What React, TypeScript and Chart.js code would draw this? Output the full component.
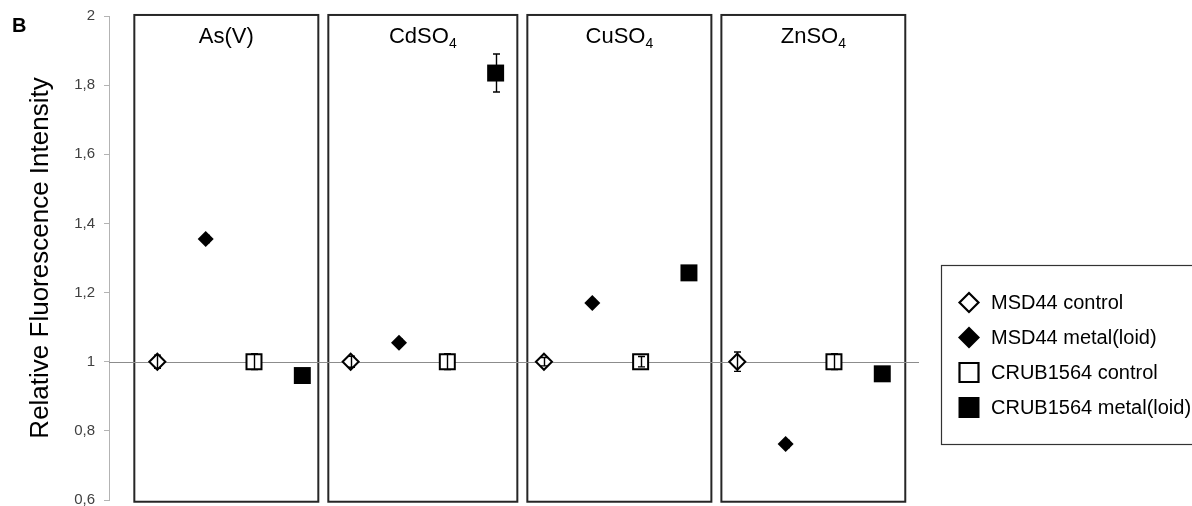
import React, { useEffect, useRef } from 'react';
import { Chart, registerables } from 'chart.js';

Chart.register(...registerables);

// ---------- data ----------
const panelTitles = ['As(V)', 'CdSO', 'CuSO', 'ZnSO'];
const panelSubscripts = ['', '4', '4', '4'];
const seriesNames = ['MSD44 control', 'MSD44 metal(loid)', 'CRUB1564 control', 'CRUB1564 metal(loid)'];

// category positions (1..16) of each series in the four panels
const msdControlX = [1, 5, 9, 13];
const msdMetalX = [2, 6, 10, 14];
const crubControlX = [3, 7, 11, 15];
const crubMetalX = [4, 8, 12, 16];

const msdControl = [1.0, 1.0, 1.0, 1.0];
const msdControlErr = [0.019, 0.016, 0.012, 0.028];
const msdMetal = [1.355, 1.055, 1.17, 0.762];
const msdMetalErr = [0.01, 0.01, 0.01, 0.01];
const crubControl = [1.0, 1.0, 1.0, 1.0];
const crubControlErr = [0.023, 0.023, 0.015, 0.023];
const crubMetal = [0.96, 1.835, 1.257, 0.965];
const crubMetalErr = [0.01, 0.055, 0.01, 0.01];

// panel frames in x-axis units
const panelLeft = [0.524, 4.538, 8.656, 12.671];
const panelRight = [4.331, 8.449, 12.464, 16.476];
const panelTop = 2.003;
const panelBottom = 0.595;

const referenceValue = 1;
const yTickValues = [0.6, 0.8, 1.0, 1.2, 1.4, 1.6, 1.8, 2.0];
const yTickLabels = ['0,6', '0,8', '1', '1,2', '1,4', '1,6', '1,8', '2'];
const yMin = 0.6;
const yMax = 2;
const xMin = 0;
const xMax = 16.76;

const FONT = '"Liberation Sans", Arial, Helvetica, sans-serif';

const seriesX = [msdControlX, msdMetalX, crubControlX, crubMetalX];
const seriesY = [msdControl, msdMetal, crubControl, crubMetal];
const seriesErr = [msdControlErr, msdMetalErr, crubControlErr, crubMetalErr];

function drawMarker(ctx: CanvasRenderingContext2D, kind: number, cx: number, cy: number) {
  ctx.save();
  ctx.beginPath();
  if (kind === 0 || kind === 1) {
    const r = kind === 0 ? 9.5 : 11;
    ctx.moveTo(cx - r, cy);
    ctx.lineTo(cx, cy - r);
    ctx.lineTo(cx + r, cy);
    ctx.lineTo(cx, cy + r);
    ctx.closePath();
  } else {
    const s = kind === 2 ? 19 : 21;
    ctx.rect(cx - s / 2, cy - s / 2, s, s);
  }
  if (kind === 0 || kind === 2) {
    ctx.fillStyle = '#ffffff';
    ctx.fill();
    ctx.lineWidth = 2.2;
    ctx.strokeStyle = '#000000';
    ctx.stroke();
  } else {
    ctx.fillStyle = '#000000';
    ctx.fill();
  }
  ctx.restore();
}

const decorPlugin = {
  id: 'decor',
  beforeDatasetsDraw(chart: any) {
    const { ctx, chartArea, scales } = chart;
    const x = scales.x;
    const y = scales.y;
    ctx.save();
    // panel frames
    ctx.strokeStyle = '#262626';
    ctx.lineWidth = 2;
    const t = y.getPixelForValue(panelTop);
    const b = y.getPixelForValue(panelBottom);
    for (let i = 0; i < panelLeft.length; i++) {
      const l = x.getPixelForValue(panelLeft[i]);
      const r = x.getPixelForValue(panelRight[i]);
      ctx.strokeRect(l, t, r - l, b - t);
    }
    // reference line at 1
    const yr = Math.round(y.getPixelForValue(referenceValue)) + 0.5;
    ctx.strokeStyle = '#8c8c8c';
    ctx.lineWidth = 1;
    ctx.beginPath();
    ctx.moveTo(chartArea.left, yr);
    ctx.lineTo(chartArea.right, yr);
    ctx.stroke();
    // panel titles
    const ty = y.getPixelForValue(yMax) + 27;
    for (let i = 0; i < panelTitles.length; i++) {
      const cx = (x.getPixelForValue(panelLeft[i]) + x.getPixelForValue(panelRight[i])) / 2;
      ctx.font = `22px ${FONT}`;
      const w1 = ctx.measureText(panelTitles[i]).width;
      ctx.font = `14px ${FONT}`;
      const w2 = panelSubscripts[i] ? ctx.measureText(panelSubscripts[i]).width : 0;
      const start = cx - (w1 + w2) / 2;
      ctx.fillStyle = '#000000';
      ctx.textAlign = 'left';
      ctx.textBaseline = 'alphabetic';
      ctx.font = `22px ${FONT}`;
      ctx.fillText(panelTitles[i], start, ty);
      if (panelSubscripts[i]) {
        ctx.font = `14px ${FONT}`;
        ctx.fillText(panelSubscripts[i], start + w1, ty + 5);
      }
    }
    ctx.restore();
  },
  afterDatasetsDraw(chart: any) {
    const { ctx, scales } = chart;
    const x = scales.x;
    const y = scales.y;
    ctx.save();
    ctx.strokeStyle = '#000000';
    ctx.lineWidth = 1.4;
    for (let s = 0; s < seriesX.length; s++) {
      for (let i = 0; i < seriesX[s].length; i++) {
        const e = seriesErr[s][i];
        if (!e) continue;
        const px = Math.round(x.getPixelForValue(seriesX[s][i])) + 0.5;
        const top = y.getPixelForValue(seriesY[s][i] + e);
        const bot = y.getPixelForValue(seriesY[s][i] - e);
        ctx.beginPath();
        ctx.moveTo(px, top);
        ctx.lineTo(px, bot);
        ctx.moveTo(px - 3.5, top);
        ctx.lineTo(px + 3.5, top);
        ctx.moveTo(px - 3.5, bot);
        ctx.lineTo(px + 3.5, bot);
        ctx.stroke();
      }
    }
    ctx.restore();
  },
  afterDraw(chart: any) {
    const { ctx, chartArea } = chart;
    ctx.save();
    // panel letter
    ctx.fillStyle = '#000000';
    ctx.font = `bold 20px ${FONT}`;
    ctx.textAlign = 'left';
    ctx.textBaseline = 'alphabetic';
    ctx.fillText('B', 12, 32);
    // y axis title
    ctx.save();
    ctx.translate(48, (chartArea.top + chartArea.bottom) / 2);
    ctx.rotate(-Math.PI / 2);
    ctx.font = `26px ${FONT}`;
    ctx.textAlign = 'center';
    ctx.textBaseline = 'alphabetic';
    ctx.fillStyle = '#000000';
    ctx.fillText('Relative Fluorescence Intensity', 0, 0);
    ctx.restore();
    // legend box
    const lx = 941.5;
    const ly = 265.5;
    ctx.strokeStyle = '#333333';
    ctx.lineWidth = 1.2;
    ctx.strokeRect(lx, ly, 300, 179);
    for (let i = 0; i < seriesNames.length; i++) {
      const ry = ly + 37 + i * 35;
      drawMarker(ctx, i, lx + 27.5, ry);
      ctx.fillStyle = '#000000';
      ctx.font = `20px ${FONT}`;
      ctx.textAlign = 'left';
      ctx.textBaseline = 'middle';
      ctx.fillText(seriesNames[i], lx + 49.5, ry + 1);
    }
    ctx.restore();
  },
};

export default function App() {
  const canvasRef = useRef<HTMLCanvasElement | null>(null);

  useEffect(() => {
    document.body.style.margin = '0';
    const canvas = canvasRef.current;
    if (!canvas) return;
    const mk = (xs: number[], ys: number[]) => xs.map((v, i) => ({ x: v, y: ys[i] }));
    const chart = new Chart(canvas, {
      type: 'scatter',
      data: {
        datasets: [
          {
            label: seriesNames[0],
            data: mk(msdControlX, msdControl),
            pointStyle: 'rectRot',
            pointRadius: 8,
            backgroundColor: '#ffffff',
            borderColor: '#000000',
            borderWidth: 2,
          },
          {
            label: seriesNames[1],
            data: mk(msdMetalX, msdMetal),
            pointStyle: 'rectRot',
            pointRadius: 8,
            backgroundColor: '#000000',
            borderColor: '#000000',
            borderWidth: 0,
          },
          {
            label: seriesNames[2],
            data: mk(crubControlX, crubControl),
            pointStyle: 'rect',
            pointRadius: 10.6,
            backgroundColor: '#ffffff',
            borderColor: '#000000',
            borderWidth: 2,
          },
          {
            label: seriesNames[3],
            data: mk(crubMetalX, crubMetal),
            pointStyle: 'rect',
            pointRadius: 12,
            backgroundColor: '#000000',
            borderColor: '#000000',
            borderWidth: 0,
          },
        ],
      },
      options: {
        animation: false,
        responsive: false,
        events: [],
        layout: { autoPadding: false, padding: { top: 16, bottom: 6, left: 0, right: 1192 - 919 } },
        plugins: {
          legend: { display: false },
          tooltip: { enabled: false },
        },
        scales: {
          x: { type: 'linear', min: xMin, max: xMax, display: false },
          y: {
            type: 'linear',
            min: yMin,
            max: yMax,
            afterBuildTicks: (s: any) => {
              s.ticks = yTickValues.map((v) => ({ value: v }));
            },
            afterFit: (s: any) => {
              s.width = 109;
              s.paddingTop = 0;
              s.paddingBottom = 0;
            },
            ticks: {
              callback: (_v: any, i: number) => yTickLabels[i],
              font: { family: FONT, size: 15 },
              color: '#404040',
              padding: 9,
            },
            grid: { drawOnChartArea: false, tickLength: 5, color: '#b3b3b3' },
            border: { color: '#b3b3b3', width: 1 },
          },
        },
      },
      plugins: [decorPlugin],
    } as any);
    return () => chart.destroy();
  }, []);

  return (
    <div style={{ width: 1192, height: 506, position: 'relative' }}>
      <canvas ref={canvasRef} width={1192} height={506} style={{ display: 'block' }} />
    </div>
  );
}
